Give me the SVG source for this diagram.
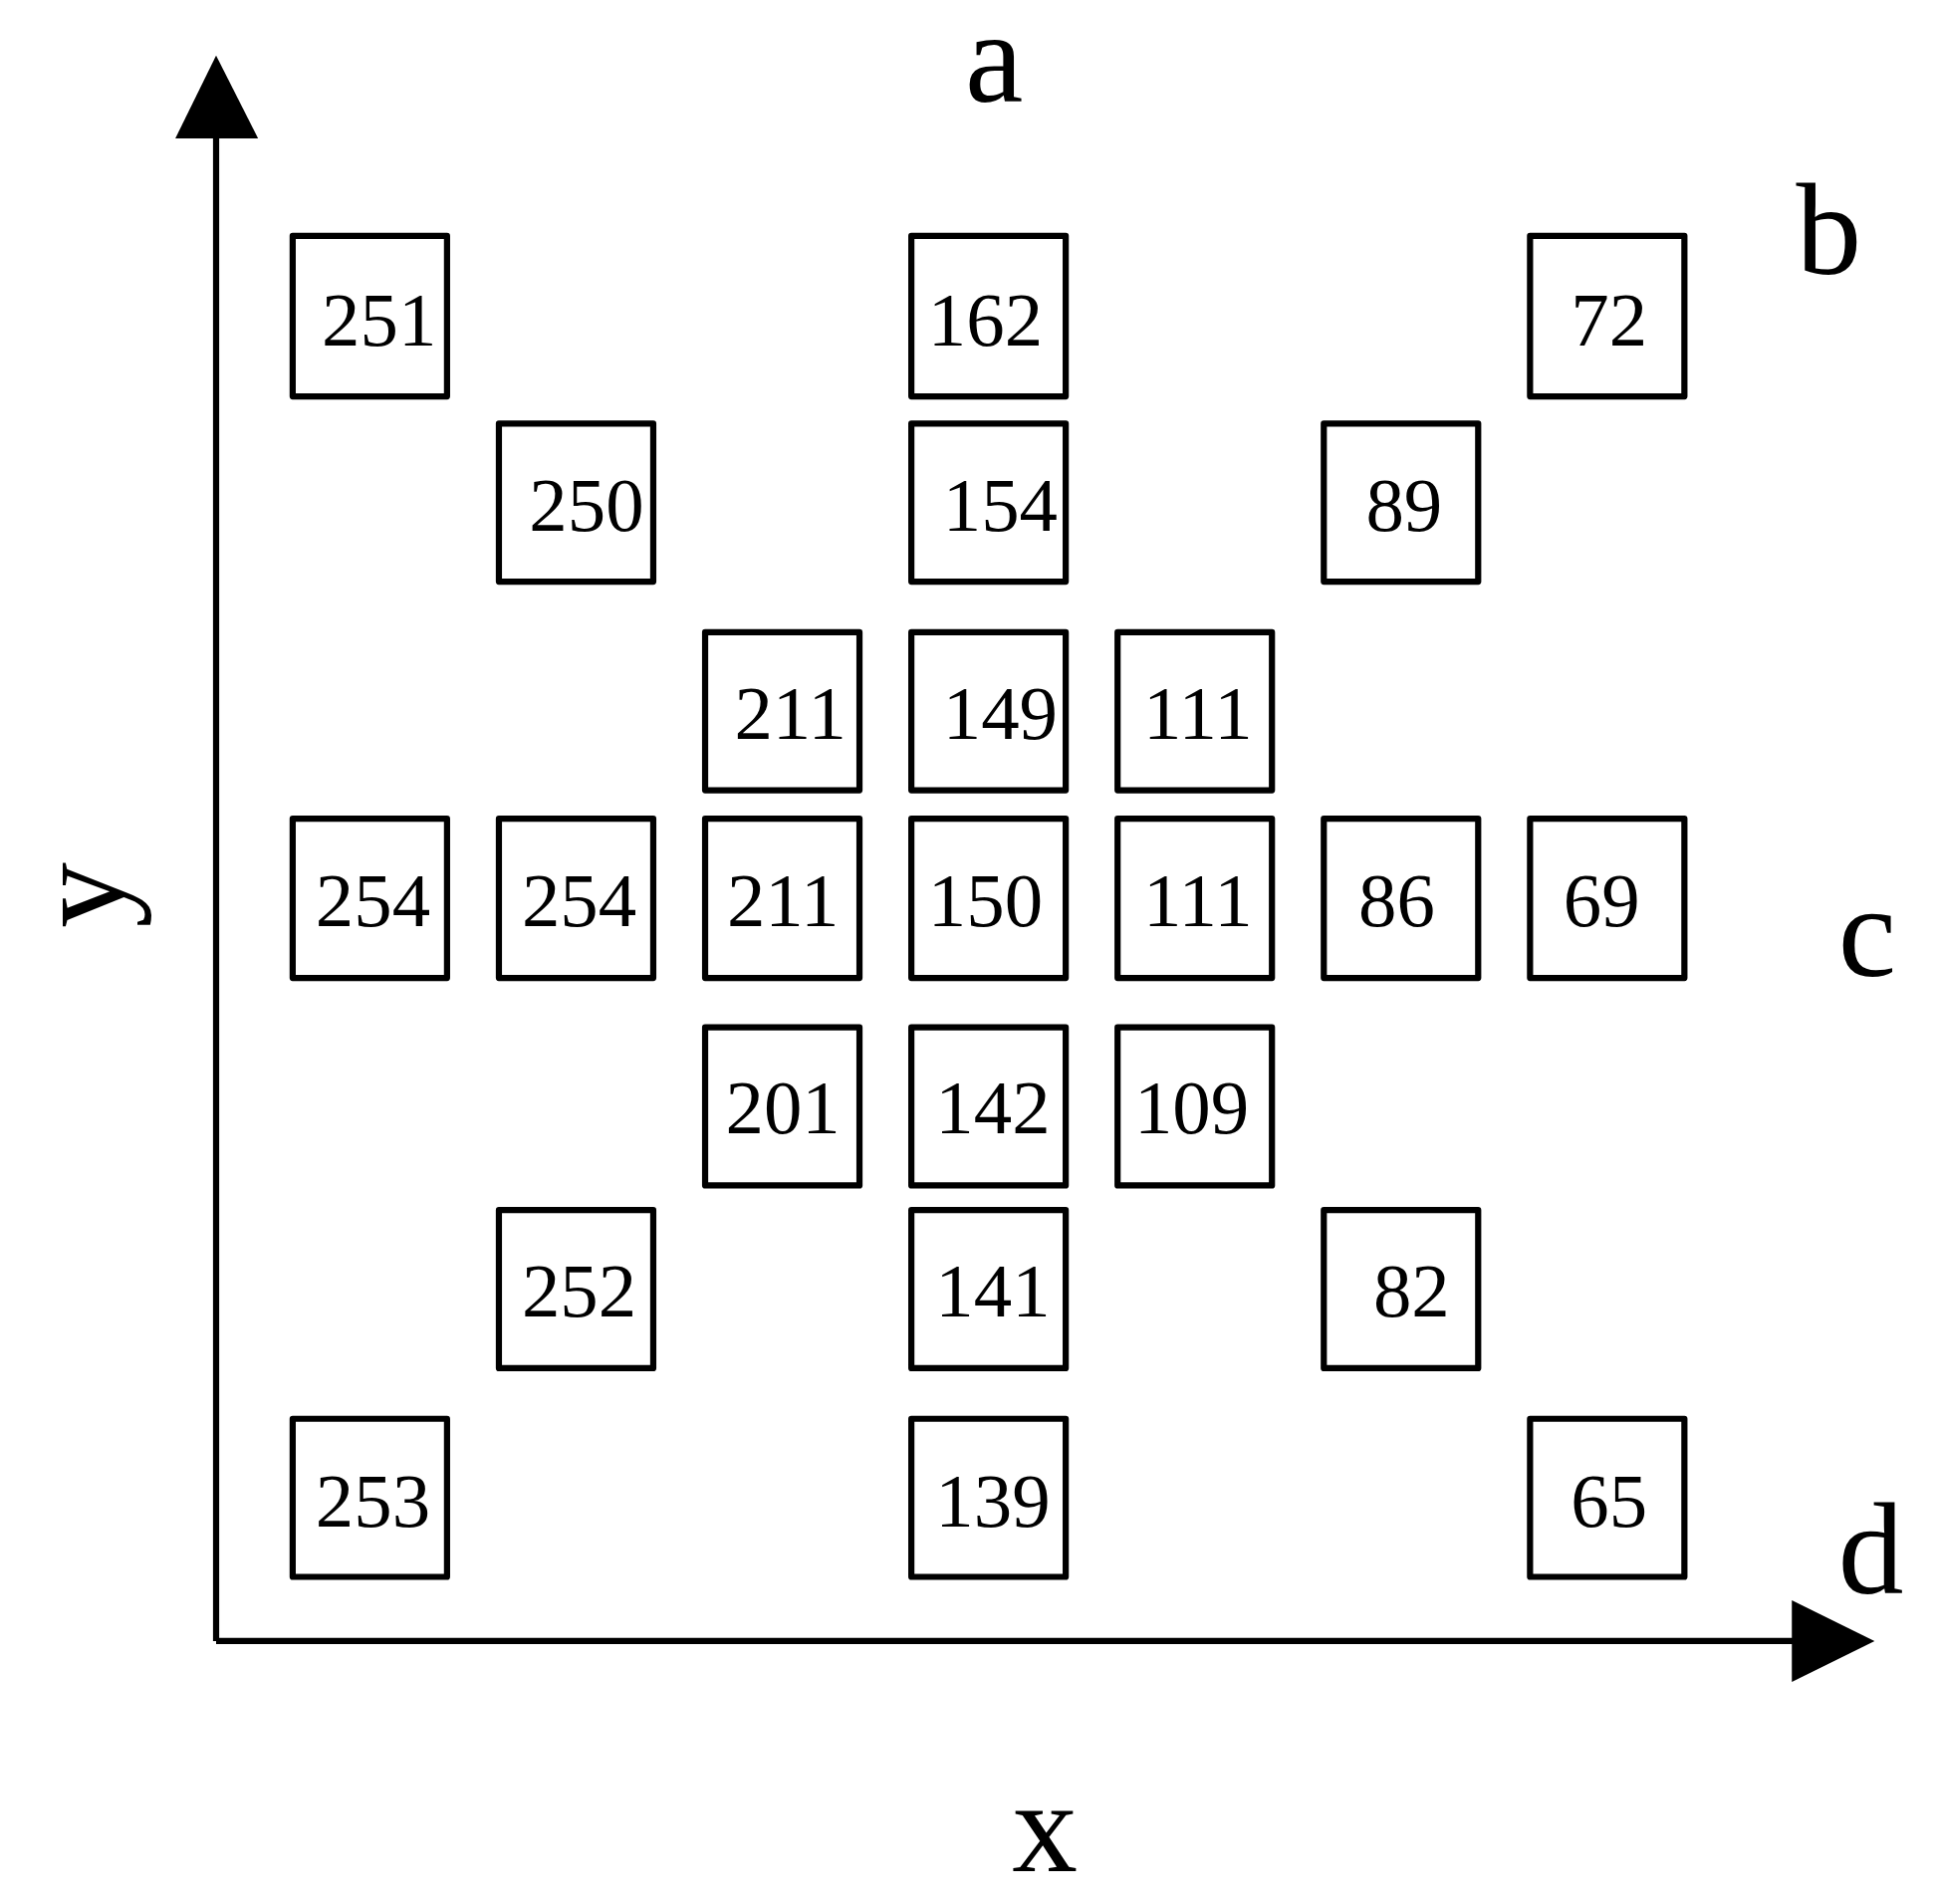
<svg xmlns="http://www.w3.org/2000/svg" width="1944" height="1912" viewBox="0 0 1944 1912">
<style>
.b{fill:none;stroke:#000;stroke-width:5;stroke-linejoin:round}
.t{font-family:"Liberation Serif",serif;font-size:62px;text-anchor:middle}
.l{font-family:"Liberation Serif",serif;font-size:106px;text-anchor:middle}
</style>
<rect width="1944" height="1912" fill="#fff"/>
<g transform="scale(1.24)">
<g id="axes">
<path d="M175 1329V110M175 1329H1453" stroke="#000" stroke-width="5" fill="none"/>
<polygon points="175,45 142,112 209,112"/>
<polygon points="1518,1329 1451,1296 1451,1362"/>
</g>
<g id="labels">
<text class="l" x="805" y="82">a</text>
<text class="l" x="1481" y="222">b</text>
<text class="l" x="1512" y="790">c</text>
<text class="l" x="1515" y="1290">d</text>
<text class="l" x="846" y="1515">x</text>
<text class="l" transform="translate(100,725) rotate(-90)">y</text>
</g>
<g id="n1"><rect class="b" x="237" y="191" width="125" height="130"/><text class="t" x="307" y="280">251</text></g>
<g id="n2"><rect class="b" x="738" y="191" width="125" height="130"/><text class="t" x="798" y="280">162</text></g>
<g id="n3"><rect class="b" x="1239" y="191" width="125" height="130"/><text class="t" x="1303" y="280">72</text></g>
<g id="n4"><rect class="b" x="404" y="343" width="125" height="128"/><text class="t" x="475" y="430">250</text></g>
<g id="n5"><rect class="b" x="738" y="343" width="125" height="128"/><text class="t" x="810" y="430">154</text></g>
<g id="n6"><rect class="b" x="1072" y="343" width="125" height="128"/><text class="t" x="1137" y="430">89</text></g>
<g id="n7"><rect class="b" x="571" y="512" width="125" height="128"/><text class="t" x="640" y="598">211</text></g>
<g id="n8"><rect class="b" x="738" y="512" width="125" height="128"/><text class="t" x="810" y="598">149</text></g>
<g id="n9"><rect class="b" x="905" y="512" width="125" height="128"/><text class="t" x="970" y="598">111</text></g>
<g id="n10"><rect class="b" x="237" y="663" width="125" height="129"/><text class="t" x="302" y="750">254</text></g>
<g id="n11"><rect class="b" x="404" y="663" width="125" height="129"/><text class="t" x="469" y="750">254</text></g>
<g id="n12"><rect class="b" x="571" y="663" width="125" height="129"/><text class="t" x="634" y="750">211</text></g>
<g id="n13"><rect class="b" x="738" y="663" width="125" height="129"/><text class="t" x="798" y="750">150</text></g>
<g id="n14"><rect class="b" x="905" y="663" width="125" height="129"/><text class="t" x="970" y="750">111</text></g>
<g id="n15"><rect class="b" x="1072" y="663" width="125" height="129"/><text class="t" x="1131" y="750">86</text></g>
<g id="n16"><rect class="b" x="1239" y="663" width="125" height="129"/><text class="t" x="1297" y="750">69</text></g>
<g id="n17"><rect class="b" x="571" y="832" width="125" height="128"/><text class="t" x="634" y="918">201</text></g>
<g id="n18"><rect class="b" x="738" y="832" width="125" height="128"/><text class="t" x="804" y="918">142</text></g>
<g id="n19"><rect class="b" x="905" y="832" width="125" height="128"/><text class="t" x="965" y="918">109</text></g>
<g id="n20"><rect class="b" x="404" y="980" width="125" height="128"/><text class="t" x="469" y="1066">252</text></g>
<g id="n21"><rect class="b" x="738" y="980" width="125" height="128"/><text class="t" x="804" y="1066">141</text></g>
<g id="n22"><rect class="b" x="1072" y="980" width="125" height="128"/><text class="t" x="1143" y="1066">82</text></g>
<g id="n23"><rect class="b" x="237" y="1149" width="125" height="128"/><text class="t" x="302" y="1236">253</text></g>
<g id="n24"><rect class="b" x="738" y="1149" width="125" height="128"/><text class="t" x="804" y="1236">139</text></g>
<g id="n25"><rect class="b" x="1239" y="1149" width="125" height="128"/><text class="t" x="1303" y="1236">65</text></g>
</g>
</svg>
